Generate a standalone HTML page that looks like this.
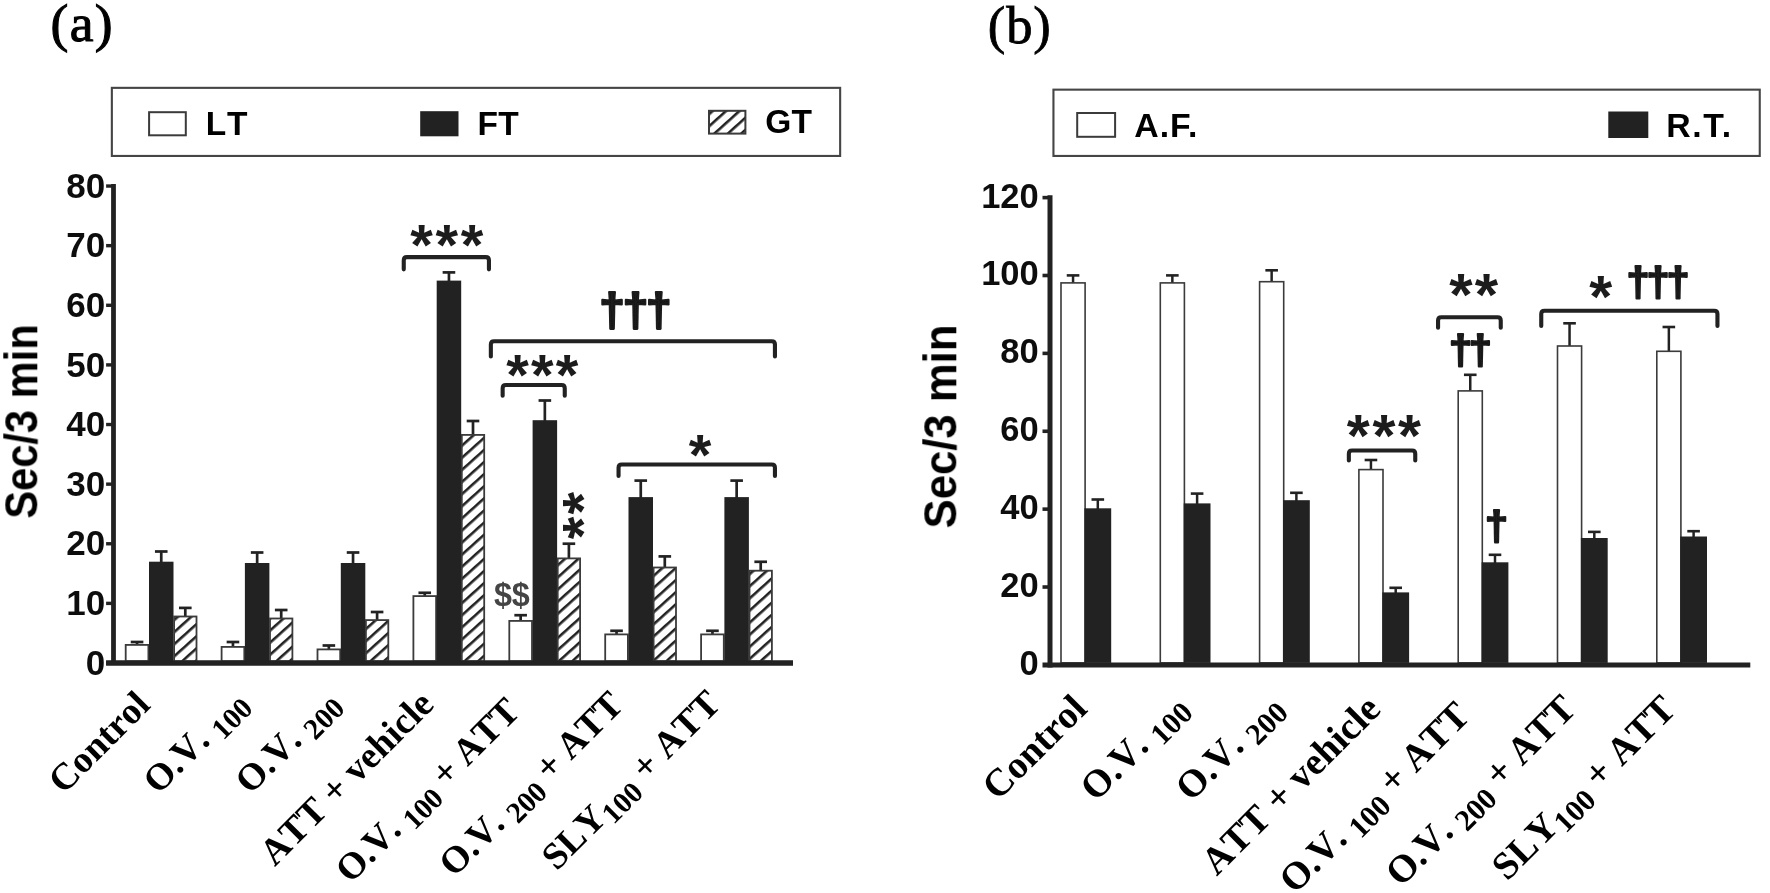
<!DOCTYPE html>
<html lang="en"><head><meta charset="utf-8"><title>Figure: behavioural test bar charts</title>
<style>html,body{margin:0;padding:0;background:#fff}svg{display:block}</style></head><body>
<svg width="1770" height="893" viewBox="0 0 1770 893">
<defs>
<pattern id="hatch" patternUnits="userSpaceOnUse" width="20" height="9" patternTransform="translate(0 0) rotate(-42)"><rect width="20" height="9" fill="#fff"/><rect y="0" width="20" height="2.6" fill="#222"/></pattern>
<filter id="soft" x="-2%" y="-2%" width="104%" height="104%"><feGaussianBlur stdDeviation="0.6"/></filter>
</defs>
<rect width="1770" height="893" fill="#fff"/>
<g filter="url(#soft)">
<text id="ta" x="50.5" y="41.3" font-family='"Liberation Serif", "Times New Roman", Times, serif' font-size="53.5" font-weight="normal" text-anchor="start" fill="#000" stroke="#000" stroke-width="1.1" letter-spacing="1.4">(a)</text>
<rect x="111.85" y="87.85" width="728.3" height="68.1" fill="#fff" stroke="#444" stroke-width="2.1"/>
<rect x="149.1" y="112.2" width="36.7" height="23.1" fill="#fff" stroke="#3a3a3a" stroke-width="2.0"/>
<text id="la0" x="205.8" y="135" font-family='"Liberation Sans", Arial, Helvetica, sans-serif' font-size="33.5" font-weight="bold" text-anchor="start" fill="#000" letter-spacing="3.2">LT</text>
<rect x="420.2" y="111.2" width="38.3" height="25.1" fill="#222"/>
<text id="la1" x="477.5" y="135" font-family='"Liberation Sans", Arial, Helvetica, sans-serif' font-size="33.5" font-weight="bold" text-anchor="start" fill="#000" letter-spacing="0.3">FT</text>
<rect x="709" y="110.8" width="36.4" height="22.8" fill="url(#hatch)" stroke="#3a3a3a" stroke-width="2.0"/>
<text id="la2" x="765.2" y="132.8" font-family='"Liberation Sans", Arial, Helvetica, sans-serif' font-size="33.5" font-weight="bold" text-anchor="start" fill="#000" letter-spacing="0.3">GT</text>
<text id="yla" x="0" y="0" font-family='"Liberation Sans", Arial, Helvetica, sans-serif' font-size="45.5" font-weight="bold" text-anchor="middle" fill="#000" transform="translate(37.3 421.5) rotate(-90) scale(0.915 1)">Sec/3 min</text>
<path d="M113.5 184V665.4M106.1 663H793" stroke="#222" stroke-width="4.8" fill="none"/>
<text id="tka0" x="105.2" y="674.6" font-family='"Liberation Sans", Arial, Helvetica, sans-serif' font-size="35" font-weight="bold" text-anchor="end" fill="#111">0</text>
<path d="M106.1 603.38H113.5" stroke="#222" stroke-width="3.4"/>
<text id="tka1" x="105.2" y="614.98" font-family='"Liberation Sans", Arial, Helvetica, sans-serif' font-size="35" font-weight="bold" text-anchor="end" fill="#111">10</text>
<path d="M106.1 543.76H113.5" stroke="#222" stroke-width="3.4"/>
<text id="tka2" x="105.2" y="555.36" font-family='"Liberation Sans", Arial, Helvetica, sans-serif' font-size="35" font-weight="bold" text-anchor="end" fill="#111">20</text>
<path d="M106.1 484.14H113.5" stroke="#222" stroke-width="3.4"/>
<text id="tka3" x="105.2" y="495.74" font-family='"Liberation Sans", Arial, Helvetica, sans-serif' font-size="35" font-weight="bold" text-anchor="end" fill="#111">30</text>
<path d="M106.1 424.52H113.5" stroke="#222" stroke-width="3.4"/>
<text id="tka4" x="105.2" y="436.12" font-family='"Liberation Sans", Arial, Helvetica, sans-serif' font-size="35" font-weight="bold" text-anchor="end" fill="#111">40</text>
<path d="M106.1 364.9H113.5" stroke="#222" stroke-width="3.4"/>
<text id="tka5" x="105.2" y="376.5" font-family='"Liberation Sans", Arial, Helvetica, sans-serif' font-size="35" font-weight="bold" text-anchor="end" fill="#111">50</text>
<path d="M106.1 305.28H113.5" stroke="#222" stroke-width="3.4"/>
<text id="tka6" x="105.2" y="316.88" font-family='"Liberation Sans", Arial, Helvetica, sans-serif' font-size="35" font-weight="bold" text-anchor="end" fill="#111">60</text>
<path d="M106.1 245.66H113.5" stroke="#222" stroke-width="3.4"/>
<text id="tka7" x="105.2" y="257.26" font-family='"Liberation Sans", Arial, Helvetica, sans-serif' font-size="35" font-weight="bold" text-anchor="end" fill="#111">70</text>
<path d="M106.1 186.04H113.5" stroke="#222" stroke-width="3.4"/>
<text id="tka8" x="105.2" y="197.64" font-family='"Liberation Sans", Arial, Helvetica, sans-serif' font-size="35" font-weight="bold" text-anchor="end" fill="#111">80</text>
<path d="M137.05 645V642" stroke="#222" stroke-width="2.7" fill="none"/>
<path d="M130.75 642H143.35" stroke="#222" stroke-width="2.7" fill="none"/>
<rect x="125.7" y="644.9" width="22.7" height="16.2" fill="#fff" stroke="#3a3a3a" stroke-width="1.8"/>
<path d="M161.25 562.7V551.5" stroke="#222" stroke-width="2.7" fill="none"/>
<path d="M154.95 551.5H167.55" stroke="#222" stroke-width="2.7" fill="none"/>
<rect x="149" y="561.7" width="24.5" height="99.4" fill="#222"/>
<path d="M185.3 616.6V607.9" stroke="#222" stroke-width="2.7" fill="none"/>
<path d="M179 607.9H191.6" stroke="#222" stroke-width="2.7" fill="none"/>
<rect x="174.1" y="616.5" width="22.4" height="44.6" fill="url(#hatch)" stroke="#3a3a3a" stroke-width="1.8"/>
<path d="M232.95 647V642" stroke="#222" stroke-width="2.7" fill="none"/>
<path d="M226.65 642H239.25" stroke="#222" stroke-width="2.7" fill="none"/>
<rect x="221.6" y="646.9" width="22.7" height="14.2" fill="#fff" stroke="#3a3a3a" stroke-width="1.8"/>
<path d="M257.15 564V552.5" stroke="#222" stroke-width="2.7" fill="none"/>
<path d="M250.85 552.5H263.45" stroke="#222" stroke-width="2.7" fill="none"/>
<rect x="244.9" y="563" width="24.5" height="98.1" fill="#222"/>
<path d="M281.2 618.6V610" stroke="#222" stroke-width="2.7" fill="none"/>
<path d="M274.9 610H287.5" stroke="#222" stroke-width="2.7" fill="none"/>
<rect x="270" y="618.5" width="22.4" height="42.6" fill="url(#hatch)" stroke="#3a3a3a" stroke-width="1.8"/>
<path d="M328.85 649.5V645.5" stroke="#222" stroke-width="2.7" fill="none"/>
<path d="M322.55 645.5H335.15" stroke="#222" stroke-width="2.7" fill="none"/>
<rect x="317.5" y="649.4" width="22.7" height="11.7" fill="#fff" stroke="#3a3a3a" stroke-width="1.8"/>
<path d="M353.05 564V552.5" stroke="#222" stroke-width="2.7" fill="none"/>
<path d="M346.75 552.5H359.35" stroke="#222" stroke-width="2.7" fill="none"/>
<rect x="340.8" y="563" width="24.5" height="98.1" fill="#222"/>
<path d="M377.1 620.2V612" stroke="#222" stroke-width="2.7" fill="none"/>
<path d="M370.8 612H383.4" stroke="#222" stroke-width="2.7" fill="none"/>
<rect x="365.9" y="620.1" width="22.4" height="41" fill="url(#hatch)" stroke="#3a3a3a" stroke-width="1.8"/>
<path d="M424.75 596.2V592.8" stroke="#222" stroke-width="2.7" fill="none"/>
<path d="M418.45 592.8H431.05" stroke="#222" stroke-width="2.7" fill="none"/>
<rect x="413.4" y="596.1" width="22.7" height="65" fill="#fff" stroke="#3a3a3a" stroke-width="1.8"/>
<path d="M448.95 281.6V272.4" stroke="#222" stroke-width="2.7" fill="none"/>
<path d="M442.65 272.4H455.25" stroke="#222" stroke-width="2.7" fill="none"/>
<rect x="436.7" y="280.6" width="24.5" height="380.5" fill="#222"/>
<path d="M473 435V421" stroke="#222" stroke-width="2.7" fill="none"/>
<path d="M466.7 421H479.3" stroke="#222" stroke-width="2.7" fill="none"/>
<rect x="461.8" y="434.9" width="22.4" height="226.2" fill="url(#hatch)" stroke="#3a3a3a" stroke-width="1.8"/>
<path d="M520.65 621V615.2" stroke="#222" stroke-width="2.7" fill="none"/>
<path d="M514.35 615.2H526.95" stroke="#222" stroke-width="2.7" fill="none"/>
<rect x="509.3" y="620.9" width="22.7" height="40.2" fill="#fff" stroke="#3a3a3a" stroke-width="1.8"/>
<path d="M544.85 421.2V400.5" stroke="#222" stroke-width="2.7" fill="none"/>
<path d="M538.55 400.5H551.15" stroke="#222" stroke-width="2.7" fill="none"/>
<rect x="532.6" y="420.2" width="24.5" height="240.9" fill="#222"/>
<path d="M568.9 558.5V543.7" stroke="#222" stroke-width="2.7" fill="none"/>
<path d="M562.6 543.7H575.2" stroke="#222" stroke-width="2.7" fill="none"/>
<rect x="557.7" y="558.4" width="22.4" height="102.7" fill="url(#hatch)" stroke="#3a3a3a" stroke-width="1.8"/>
<path d="M616.55 634.5V630.8" stroke="#222" stroke-width="2.7" fill="none"/>
<path d="M610.25 630.8H622.85" stroke="#222" stroke-width="2.7" fill="none"/>
<rect x="605.2" y="634.4" width="22.7" height="26.7" fill="#fff" stroke="#3a3a3a" stroke-width="1.8"/>
<path d="M640.75 498.1V480.6" stroke="#222" stroke-width="2.7" fill="none"/>
<path d="M634.45 480.6H647.05" stroke="#222" stroke-width="2.7" fill="none"/>
<rect x="628.5" y="497.1" width="24.5" height="164" fill="#222"/>
<path d="M664.8 567.6V556.4" stroke="#222" stroke-width="2.7" fill="none"/>
<path d="M658.5 556.4H671.1" stroke="#222" stroke-width="2.7" fill="none"/>
<rect x="653.6" y="567.5" width="22.4" height="93.6" fill="url(#hatch)" stroke="#3a3a3a" stroke-width="1.8"/>
<path d="M712.45 634.5V630.8" stroke="#222" stroke-width="2.7" fill="none"/>
<path d="M706.15 630.8H718.75" stroke="#222" stroke-width="2.7" fill="none"/>
<rect x="701.1" y="634.4" width="22.7" height="26.7" fill="#fff" stroke="#3a3a3a" stroke-width="1.8"/>
<path d="M736.65 498.1V480.6" stroke="#222" stroke-width="2.7" fill="none"/>
<path d="M730.35 480.6H742.95" stroke="#222" stroke-width="2.7" fill="none"/>
<rect x="724.4" y="497.1" width="24.5" height="164" fill="#222"/>
<path d="M760.7 570.8V561.8" stroke="#222" stroke-width="2.7" fill="none"/>
<path d="M754.4 561.8H767" stroke="#222" stroke-width="2.7" fill="none"/>
<rect x="749.5" y="570.7" width="22.4" height="90.4" fill="url(#hatch)" stroke="#3a3a3a" stroke-width="1.8"/>
<path d="M106.1 663H793" stroke="#222" stroke-width="4.8" fill="none"/>
<path d="M403.75 269.35V260.3Q403.75 257.1 406.95 257.1H485.75Q488.95 257.1 488.95 260.3V269.35" stroke="#222" stroke-width="4.1" fill="none" stroke-linecap="round"/>
<path d="M490.85 356.45V344.5Q490.85 341.3 494.05 341.3H771.75Q774.95 341.3 774.95 344.5V356.45" stroke="#222" stroke-width="4.1" fill="none" stroke-linecap="round"/>
<path d="M502.65 395.75V388.2Q502.65 385 505.85 385H561.55Q564.75 385 564.75 388.2V395.75" stroke="#222" stroke-width="4.1" fill="none" stroke-linecap="round"/>
<path d="M618.55 475.95V467.7Q618.55 464.5 621.75 464.5H771.75Q774.95 464.5 774.95 467.7V475.95" stroke="#222" stroke-width="4.1" fill="none" stroke-linecap="round"/>
<text id="xa0" x="410.3" y="264.8" font-family='"Liberation Sans", Arial, Helvetica, sans-serif' font-size="58" font-weight="bold" text-anchor="start" fill="#1a1a1a" letter-spacing="2.6">***</text>
<text id="xa1" x="599.3" y="325.7" font-family='"Liberation Sans", Arial, Helvetica, sans-serif' font-size="46" font-weight="bold" text-anchor="start" fill="#1a1a1a" letter-spacing="-2.2" stroke="#1a1a1a" stroke-width="2.2" stroke-linejoin="round">†††</text>
<text id="xa2" x="506.2" y="394.5" font-family='"Liberation Sans", Arial, Helvetica, sans-serif' font-size="58" font-weight="bold" text-anchor="start" fill="#1a1a1a" letter-spacing="2.2">***</text>
<text id="xa3" x="688.8" y="474.8" font-family='"Liberation Sans", Arial, Helvetica, sans-serif' font-size="58" font-weight="bold" text-anchor="start" fill="#1a1a1a">*</text>
<text id="xa4" x="0" y="0" font-family='"Liberation Sans", Arial, Helvetica, sans-serif' font-size="58" font-weight="bold" text-anchor="start" fill="#1a1a1a" transform="translate(603.3 539.3) rotate(-90)" letter-spacing="2.2">**</text>
<text id="xa5" x="493.9" y="606.2" font-family='"Liberation Sans", Arial, Helvetica, sans-serif' font-size="32.3" font-weight="bold" text-anchor="start" fill="#444">$$</text>
<text id="xla0" x="0" y="0" font-family='"Liberation Serif", "Times New Roman", Times, serif' font-size="37.5" font-weight="bold" text-anchor="end" fill="#000" transform="translate(152 706.6) rotate(-45)" xml:space="preserve" letter-spacing="0" style="font-kerning:none">Control</text>
<text id="xla1" x="0" y="0" font-family='"Liberation Serif", "Times New Roman", Times, serif' font-size="37.5" font-weight="bold" text-anchor="end" fill="#000" transform="translate(249.2 704.4) rotate(-45)" xml:space="preserve" letter-spacing="0" style="font-kerning:none">O.V. <tspan font-size="29.5" dy="7.5" dx="0">100</tspan></text>
<text id="xla2" x="0" y="0" font-family='"Liberation Serif", "Times New Roman", Times, serif' font-size="37.5" font-weight="bold" text-anchor="end" fill="#000" transform="translate(341.2 704.4) rotate(-45)" xml:space="preserve" letter-spacing="0" style="font-kerning:none">O.V. <tspan font-size="29.5" dy="7.5" dx="0">200</tspan></text>
<text id="xla3" x="0" y="0" font-family='"Liberation Serif", "Times New Roman", Times, serif' font-size="37.5" font-weight="bold" text-anchor="end" fill="#000" transform="translate(435.6 706.2) rotate(-45)" xml:space="preserve" letter-spacing="0" style="font-kerning:none">ATT + vehicle</text>
<text id="xla4" x="0" y="0" font-family='"Liberation Serif", "Times New Roman", Times, serif' font-size="37.5" font-weight="bold" text-anchor="end" fill="#000" transform="translate(521.4 713.4) rotate(-45)" xml:space="preserve" letter-spacing="-0.3" style="font-kerning:none">O.V. <tspan font-size="29.5" dy="7.5" dx="0">100</tspan><tspan dy="-7.5" dx="0"> + ATT</tspan></text>
<text id="xla5" x="0" y="0" font-family='"Liberation Serif", "Times New Roman", Times, serif' font-size="37.5" font-weight="bold" text-anchor="end" fill="#000" transform="translate(625 707) rotate(-45)" xml:space="preserve" letter-spacing="-0.3" style="font-kerning:none">O.V. <tspan font-size="29.5" dy="7.5" dx="0">200</tspan><tspan dy="-7.5" dx="0"> + ATT</tspan></text>
<text id="xla6" x="0" y="0" font-family='"Liberation Serif", "Times New Roman", Times, serif' font-size="37.5" font-weight="bold" text-anchor="end" fill="#000" transform="translate(722.4 705.8) rotate(-45)" xml:space="preserve" letter-spacing="0" style="font-kerning:none">SLY<tspan font-size="29.5" dy="7.5" dx="0">100</tspan><tspan dy="-7.5" dx="0"> + ATT</tspan></text>
<text id="tb" x="987.8" y="43.4" font-family='"Liberation Serif", "Times New Roman", Times, serif' font-size="52.5" font-weight="normal" text-anchor="start" fill="#000" stroke="#000" stroke-width="0.8" letter-spacing="0.9">(b)</text>
<rect x="1053.45" y="89.65" width="706.3" height="66.3" fill="#fff" stroke="#444" stroke-width="2.1"/>
<rect x="1077.2" y="113" width="37.9" height="23.8" fill="#fff" stroke="#3a3a3a" stroke-width="2.0"/>
<text id="lb0" x="1134.3" y="137.3" font-family='"Liberation Sans", Arial, Helvetica, sans-serif' font-size="33.8" font-weight="bold" text-anchor="start" fill="#000" letter-spacing="1.0">A.F.</text>
<rect x="1608.3" y="111.5" width="40" height="26.5" fill="#222"/>
<text id="lb1" x="1666.3" y="137" font-family='"Liberation Sans", Arial, Helvetica, sans-serif' font-size="33.8" font-weight="bold" text-anchor="start" fill="#000" letter-spacing="1.6">R.T.</text>
<text id="ylb" x="0" y="0" font-family='"Liberation Sans", Arial, Helvetica, sans-serif' font-size="45.5" font-weight="bold" text-anchor="middle" fill="#000" transform="translate(956.3 426.5) rotate(-90) scale(0.96 1)">Sec/3 min</text>
<path d="M1050 195.3V667.4" stroke="#222" stroke-width="5" fill="none"/>
<text id="tkb0" x="1038.7" y="674.8" font-family='"Liberation Sans", Arial, Helvetica, sans-serif' font-size="34.5" font-weight="bold" text-anchor="end" fill="#111">0</text>
<path d="M1042.5 587.02H1050" stroke="#222" stroke-width="3.6"/>
<text id="tkb1" x="1038.7" y="596.92" font-family='"Liberation Sans", Arial, Helvetica, sans-serif' font-size="34.5" font-weight="bold" text-anchor="end" fill="#111">20</text>
<path d="M1042.5 509.14H1050" stroke="#222" stroke-width="3.6"/>
<text id="tkb2" x="1038.7" y="519.04" font-family='"Liberation Sans", Arial, Helvetica, sans-serif' font-size="34.5" font-weight="bold" text-anchor="end" fill="#111">40</text>
<path d="M1042.5 431.26H1050" stroke="#222" stroke-width="3.6"/>
<text id="tkb3" x="1038.7" y="441.16" font-family='"Liberation Sans", Arial, Helvetica, sans-serif' font-size="34.5" font-weight="bold" text-anchor="end" fill="#111">60</text>
<path d="M1042.5 353.38H1050" stroke="#222" stroke-width="3.6"/>
<text id="tkb4" x="1038.7" y="363.28" font-family='"Liberation Sans", Arial, Helvetica, sans-serif' font-size="34.5" font-weight="bold" text-anchor="end" fill="#111">80</text>
<path d="M1042.5 275.5H1050" stroke="#222" stroke-width="3.6"/>
<text id="tkb5" x="1038.7" y="285.4" font-family='"Liberation Sans", Arial, Helvetica, sans-serif' font-size="34.5" font-weight="bold" text-anchor="end" fill="#111">100</text>
<path d="M1042.5 197.62H1050" stroke="#222" stroke-width="3.6"/>
<text id="tkb6" x="1038.7" y="207.52" font-family='"Liberation Sans", Arial, Helvetica, sans-serif' font-size="34.5" font-weight="bold" text-anchor="end" fill="#111">120</text>
<path d="M1073.05 283.1V275.4" stroke="#222" stroke-width="2.5" fill="none"/>
<path d="M1066.75 275.4H1079.35" stroke="#222" stroke-width="2.6" fill="none"/>
<rect x="1061" y="282.9" width="24.1" height="380" fill="#fff" stroke="#3a3a3a" stroke-width="1.6"/>
<path d="M1097.8 509.3V499.5" stroke="#222" stroke-width="2.5" fill="none"/>
<path d="M1091.5 499.5H1104.1" stroke="#222" stroke-width="2.6" fill="none"/>
<rect x="1084.4" y="508.3" width="26.8" height="154.6" fill="#222"/>
<path d="M1172.35 283.1V275.4" stroke="#222" stroke-width="2.5" fill="none"/>
<path d="M1166.05 275.4H1178.65" stroke="#222" stroke-width="2.6" fill="none"/>
<rect x="1160.3" y="282.9" width="24.1" height="380" fill="#fff" stroke="#3a3a3a" stroke-width="1.6"/>
<path d="M1197.1 504.4V493.6" stroke="#222" stroke-width="2.5" fill="none"/>
<path d="M1190.8 493.6H1203.4" stroke="#222" stroke-width="2.6" fill="none"/>
<rect x="1183.7" y="503.4" width="26.8" height="159.5" fill="#222"/>
<path d="M1271.65 281.9V270.3" stroke="#222" stroke-width="2.5" fill="none"/>
<path d="M1265.35 270.3H1277.95" stroke="#222" stroke-width="2.6" fill="none"/>
<rect x="1259.6" y="281.7" width="24.1" height="381.2" fill="#fff" stroke="#3a3a3a" stroke-width="1.6"/>
<path d="M1296.4 501.2V492.8" stroke="#222" stroke-width="2.5" fill="none"/>
<path d="M1290.1 492.8H1302.7" stroke="#222" stroke-width="2.6" fill="none"/>
<rect x="1283" y="500.2" width="26.8" height="162.7" fill="#222"/>
<path d="M1370.95 469.8V460" stroke="#222" stroke-width="2.5" fill="none"/>
<path d="M1364.65 460H1377.25" stroke="#222" stroke-width="2.6" fill="none"/>
<rect x="1358.9" y="469.6" width="24.1" height="193.3" fill="#fff" stroke="#3a3a3a" stroke-width="1.6"/>
<path d="M1395.7 593.4V587.8" stroke="#222" stroke-width="2.5" fill="none"/>
<path d="M1389.4 587.8H1402" stroke="#222" stroke-width="2.6" fill="none"/>
<rect x="1382.3" y="592.4" width="26.8" height="70.5" fill="#222"/>
<path d="M1470.25 391.1V374.8" stroke="#222" stroke-width="2.5" fill="none"/>
<path d="M1463.95 374.8H1476.55" stroke="#222" stroke-width="2.6" fill="none"/>
<rect x="1458.2" y="390.9" width="24.1" height="272" fill="#fff" stroke="#3a3a3a" stroke-width="1.6"/>
<path d="M1495 563.3V554.8" stroke="#222" stroke-width="2.5" fill="none"/>
<path d="M1488.7 554.8H1501.3" stroke="#222" stroke-width="2.6" fill="none"/>
<rect x="1481.6" y="562.3" width="26.8" height="100.6" fill="#222"/>
<path d="M1569.55 346.2V323.3" stroke="#222" stroke-width="2.5" fill="none"/>
<path d="M1563.25 323.3H1575.85" stroke="#222" stroke-width="2.6" fill="none"/>
<rect x="1557.5" y="346" width="24.1" height="316.9" fill="#fff" stroke="#3a3a3a" stroke-width="1.6"/>
<path d="M1594.3 539V531.9" stroke="#222" stroke-width="2.5" fill="none"/>
<path d="M1588 531.9H1600.6" stroke="#222" stroke-width="2.6" fill="none"/>
<rect x="1580.9" y="538" width="26.8" height="124.9" fill="#222"/>
<path d="M1668.85 351.5V327" stroke="#222" stroke-width="2.5" fill="none"/>
<path d="M1662.55 327H1675.15" stroke="#222" stroke-width="2.6" fill="none"/>
<rect x="1656.8" y="351.3" width="24.1" height="311.6" fill="#fff" stroke="#3a3a3a" stroke-width="1.6"/>
<path d="M1693.6 537.5V531.2" stroke="#222" stroke-width="2.5" fill="none"/>
<path d="M1687.3 531.2H1699.9" stroke="#222" stroke-width="2.6" fill="none"/>
<rect x="1680.2" y="536.5" width="26.8" height="126.4" fill="#222"/>
<path d="M1042.5 664.9H1750.3" stroke="#222" stroke-width="5" fill="none"/>
<path d="M1348.85 460.45V453.7Q1348.85 450.5 1352.05 450.5H1412.05Q1415.25 450.5 1415.25 453.7V460.45" stroke="#222" stroke-width="4.1" fill="none" stroke-linecap="round"/>
<path d="M1438.05 327.75V320.4Q1438.05 317.2 1441.25 317.2H1497.55Q1500.75 317.2 1500.75 320.4V327.75" stroke="#222" stroke-width="4.1" fill="none" stroke-linecap="round"/>
<path d="M1541.25 325.95V314Q1541.25 310.8 1544.45 310.8H1714.25Q1717.45 310.8 1717.45 314V325.95" stroke="#222" stroke-width="4.1" fill="none" stroke-linecap="round"/>
<text id="xb0" x="1346.8" y="455.8" font-family='"Liberation Sans", Arial, Helvetica, sans-serif' font-size="59" font-weight="bold" text-anchor="start" fill="#1a1a1a" letter-spacing="2.65">***</text>
<text id="xb1" x="1449.3" y="315.4" font-family='"Liberation Sans", Arial, Helvetica, sans-serif' font-size="60" font-weight="bold" text-anchor="start" fill="#1a1a1a" letter-spacing="2.2">**</text>
<text id="xb2" x="1448.9" y="364.3" font-family='"Liberation Sans", Arial, Helvetica, sans-serif' font-size="41.5" font-weight="bold" text-anchor="start" fill="#1a1a1a" letter-spacing="-3.3" stroke="#1a1a1a" stroke-width="2.0" stroke-linejoin="round">††</text>
<text id="xb3" x="1589.3" y="316.9" font-family='"Liberation Sans", Arial, Helvetica, sans-serif' font-size="59" font-weight="bold" text-anchor="start" fill="#1a1a1a">*</text>
<text id="xb4" x="1626.5" y="295.8" font-family='"Liberation Sans", Arial, Helvetica, sans-serif' font-size="41.5" font-weight="bold" text-anchor="start" fill="#1a1a1a" letter-spacing="-3.1" stroke="#1a1a1a" stroke-width="2.0" stroke-linejoin="round">†††</text>
<text id="xb5" x="1484.9" y="540.4" font-family='"Liberation Sans", Arial, Helvetica, sans-serif' font-size="41.5" font-weight="bold" text-anchor="start" fill="#1a1a1a" stroke="#1a1a1a" stroke-width="2.0" stroke-linejoin="round">†</text>
<text id="xlb0" x="0" y="0" font-family='"Liberation Serif", "Times New Roman", Times, serif' font-size="38.6" font-weight="bold" text-anchor="end" fill="#000" transform="translate(1088.8 710.6) rotate(-45)" xml:space="preserve" letter-spacing="0" style="font-kerning:none">Control</text>
<text id="xlb1" x="0" y="0" font-family='"Liberation Serif", "Times New Roman", Times, serif' font-size="38.6" font-weight="bold" text-anchor="end" fill="#000" transform="translate(1189.4 709) rotate(-45)" xml:space="preserve" letter-spacing="0" style="font-kerning:none">O.V. <tspan font-size="30.3" dy="7.5" dx="0">100</tspan></text>
<text id="xlb2" x="0" y="0" font-family='"Liberation Serif", "Times New Roman", Times, serif' font-size="38.6" font-weight="bold" text-anchor="end" fill="#000" transform="translate(1284.6 709) rotate(-45)" xml:space="preserve" letter-spacing="0" style="font-kerning:none">O.V. <tspan font-size="30.3" dy="7.5" dx="0">200</tspan></text>
<text id="xlb3" x="0" y="0" font-family='"Liberation Serif", "Times New Roman", Times, serif' font-size="38.6" font-weight="bold" text-anchor="end" fill="#000" transform="translate(1382.4 711.2) rotate(-45)" xml:space="preserve" letter-spacing="0" style="font-kerning:none">ATT + vehicle</text>
<text id="xlb4" x="0" y="0" font-family='"Liberation Serif", "Times New Roman", Times, serif' font-size="38.6" font-weight="bold" text-anchor="end" fill="#000" transform="translate(1471.6 718) rotate(-45)" xml:space="preserve" letter-spacing="-0.2" style="font-kerning:none">O.V. <tspan font-size="30.3" dy="7.5" dx="0">100</tspan><tspan dy="-7.5" dx="0"> + ATT</tspan></text>
<text id="xlb5" x="0" y="0" font-family='"Liberation Serif", "Times New Roman", Times, serif' font-size="38.6" font-weight="bold" text-anchor="end" fill="#000" transform="translate(1577.8 711) rotate(-45)" xml:space="preserve" letter-spacing="-0.2" style="font-kerning:none">O.V. <tspan font-size="30.3" dy="7.5" dx="0">200</tspan><tspan dy="-7.5" dx="0"> + ATT</tspan></text>
<text id="xlb6" x="0" y="0" font-family='"Liberation Serif", "Times New Roman", Times, serif' font-size="38.6" font-weight="bold" text-anchor="end" fill="#000" transform="translate(1677.8 711.2) rotate(-45)" xml:space="preserve" letter-spacing="0" style="font-kerning:none">SLY<tspan font-size="30.3" dy="7.5" dx="0">100</tspan><tspan dy="-7.5" dx="0"> + ATT</tspan></text>
</g>
</svg></body></html>
